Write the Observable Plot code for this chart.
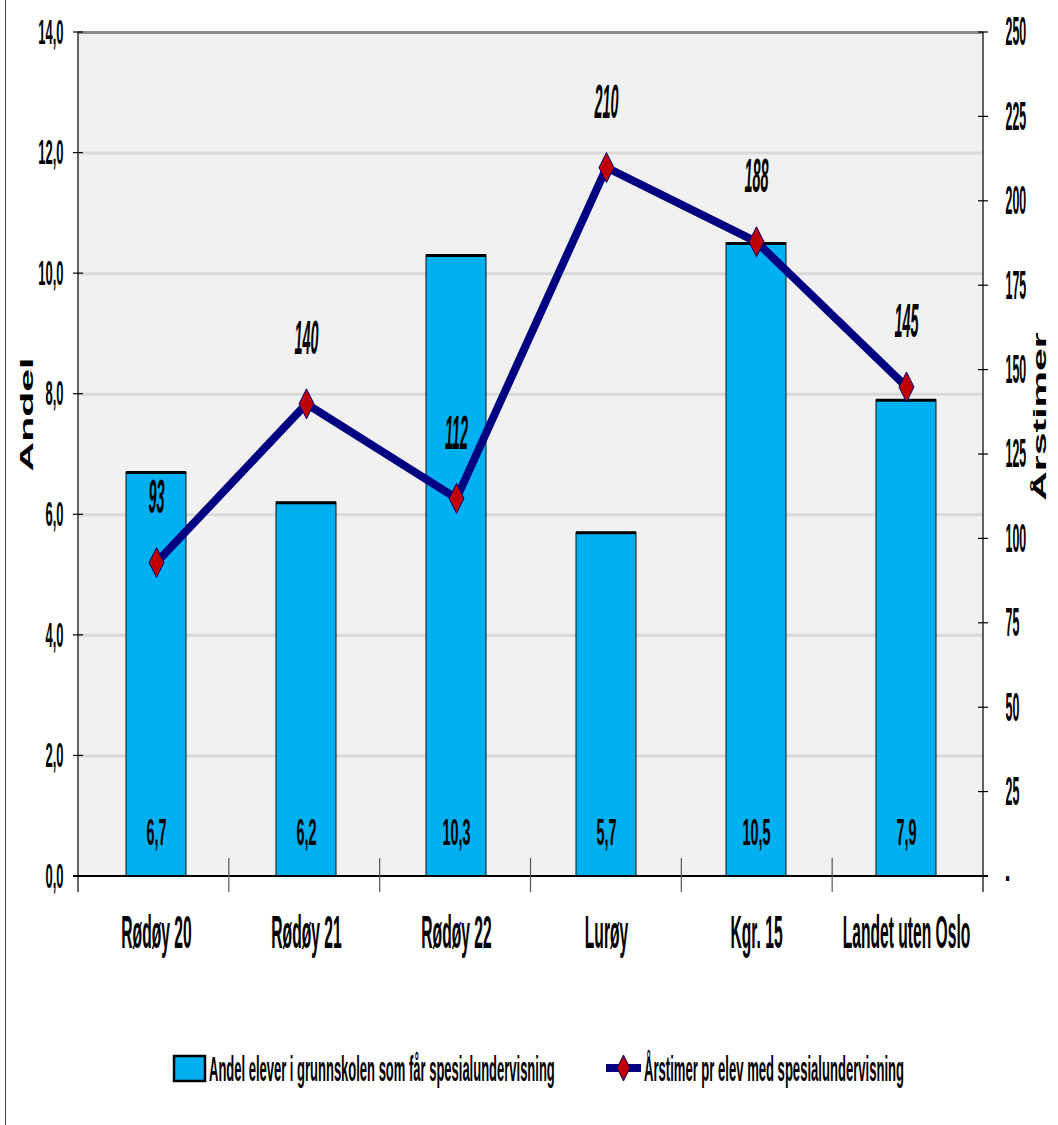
<!DOCTYPE html>
<html><head><meta charset="utf-8">
<script src="https://cdn.jsdelivr.net/npm/d3@7"></script>
<script src="https://cdn.jsdelivr.net/npm/@observablehq/plot@0.6"></script>
<style>
body{margin:0;background:#fff;width:1058px;height:1125px;overflow:hidden;position:relative;font-family:"Liberation Sans",Arial,sans-serif;}
#border{position:absolute;left:5px;top:0;width:1px;height:1125px;background:#404040;}
svg{display:block}
</style></head><body><div id="border"></div><div id="chart"></div><div id="legend"></div>
<script>
// ---- data ----
const categories = ["Rødøy 20", "Rødøy 21", "Rødøy 22", "Lurøy", "Kgr. 15", "Landet uten Oslo"];
const andel = [6.7, 6.2, 10.3, 5.7, 10.5, 7.9];
const arstimer = [93, 140, 112, 210, 188, 145];
const leftTicks = [0, 2, 4, 6, 8, 10, 12, 14];
const rightTicks = [0, 25, 50, 75, 100, 125, 150, 175, 200, 225, 250];
const seriesNames = ["Andel elever i grunnskolen som får spesialundervisning", "Årstimer pr elev med spesialundervisning"];
const axisTitles = ["Andel", "Årstimer"];

const data = categories.map((c, i) => ({cat: c, andel: andel[i], hours: arstimer[i]}));
const LMAX = 14, RMAX = 250;
const toLeft = r => r * LMAX / RMAX;
const comma = v => v.toFixed(1).replace(".", ",");

const BLUE = "#00b0f0", NAVY = "#000080", RED = "#c00000";
const FONT = "Liberation Sans, Arial, sans-serif";

const tallDiamond = {
  draw(ctx, size) {
    const r = Math.sqrt(size / Math.PI);
    const w = r * 0.5, h = r;
    ctx.moveTo(0, -h); ctx.lineTo(w, 0); ctx.lineTo(0, h); ctx.lineTo(-w, 0); ctx.closePath();
  }
};
const tag = name => () => name;

const W = 1058, H = 1000;
const plot = Plot.plot({
  width: W, height: H,
  marginLeft: 78, marginRight: 75, marginTop: 32, marginBottom: H - 876,
  x: {domain: categories, paddingInner: 0.6, paddingOuter: 0.3, axis: null},
  y: {domain: [0, LMAX], axis: null},
  style: {fontFamily: FONT, background: "transparent", overflow: "visible", color: "#000"},
  marks: [
    Plot.frame({fill: "#f1f1f1", stroke: "none"}),
    Plot.ruleY(leftTicks.filter(d => d > 0 && d < LMAX), {stroke: "#d9d9d9", strokeWidth: 3}),
    Plot.ruleY([LMAX], {stroke: "#8c8c8c", strokeWidth: 3}),
    Plot.barY(data, {x: "cat", y: "andel", fill: BLUE, stroke: "#111", strokeWidth: 1}),
    Plot.tickY(data, {x: "cat", y: "andel", stroke: "#000", strokeWidth: 3}),
    Plot.line(data, {x: "cat", y: d => toLeft(d.hours), stroke: NAVY, strokeWidth: 8, strokeLinejoin: "round"}),
    Plot.dot(data, {x: "cat", y: d => toLeft(d.hours), symbol: tallDiamond, r: 15, fill: RED, stroke: NAVY, strokeWidth: 1}),
    Plot.text(data, {x: "cat", y: d => toLeft(d.hours), text: d => String(d.hours), dy: -65,
      fontSize: 48, fontWeight: "bold", fontStyle: "italic", fill: "#000", ariaLabel: tag("linelabels")}),
    Plot.text(data, {x: "cat", y: d => 0, text: d => comma(d.andel), dy: -43,
      fontSize: 37, fontWeight: "bold", fill: "#000", ariaLabel: tag("barlabels")}),
    Plot.text(data, {x: "cat", y: d => 0, text: "cat", dy: 57,
      fontSize: 46, fontWeight: "bold", fill: "#000", ariaLabel: tag("catlabels")}),
    Plot.text(leftTicks, {y: d => d, frameAnchor: "left", dx: -15, textAnchor: "end", text: d => comma(d),
      fontSize: 35, fontWeight: "bold", fill: "#000", ariaLabel: tag("lefttick")}),
    Plot.text(rightTicks, {y: d => toLeft(d), frameAnchor: "right", dx: 22, textAnchor: "start",
      text: d => d === 0 ? "-" : String(d),
      fontSize: 40, fontWeight: "bold", fill: "#000", ariaLabel: tag("righttick")}),
    Plot.text([axisTitles[0]], {frameAnchor: "left", dx: -51, dy: -40, rotate: -90, textAnchor: "middle", text: d => d,
      fontSize: 41, fontWeight: "bold", fill: "#000", ariaLabel: tag("ytitle")}),
    Plot.text([axisTitles[1]], {frameAnchor: "right", dx: 57, dy: -38, rotate: -90, textAnchor: "middle", text: d => d,
      fontSize: 41, fontWeight: "bold", fill: "#000", ariaLabel: tag("ytitle")})
  ]
});
document.getElementById("chart").appendChild(plot);

const svg = d3.select(plot);
function squeezeEl(el, sx, sy = 1) {
  const t = el.getAttribute("transform");
  if (t) el.setAttribute("transform", `${t} scale(${sx},${sy})`);
  else {
    const x = +el.getAttribute("x") || 0;
    el.setAttribute("transform", `translate(${x},0) scale(${sx},${sy}) translate(${-x},0)`);
  }
}
function squeeze(label, sx, sy = 1) {
  svg.selectAll(`[aria-label="${label}"]`).each(function () {
    const el = this.tagName.toLowerCase() === "text" ? this : this.querySelector("text");
    if (el) squeezeEl(el, sx, sy);
  });
}
squeeze("linelabels", 0.30);
squeeze("barlabels", 0.39);
squeeze("catlabels", 0.34);
squeeze("lefttick", 0.37);
squeeze("righttick", 0.31);
squeeze("ytitle", 1, 0.45);

// axis lines and crossing tick marks from the plot's scales
const ys = plot.scale("y"), xs = plot.scale("x");
const [xa, xb] = xs.range;
const y0 = ys.apply(0), yTop = ys.apply(LMAX);
const ax = svg.append("g").attr("stroke", "#000").attr("stroke-width", 1.2).attr("fill", "none");
ax.append("line").attr("x1", xa).attr("x2", xa).attr("y1", yTop).attr("y2", y0 + 16);
ax.append("line").attr("x1", xb).attr("x2", xb).attr("y1", yTop).attr("y2", y0 + 16);
ax.append("line").attr("x1", xa - 5).attr("x2", xb + 5).attr("y1", y0).attr("y2", y0).attr("stroke-width", 2);
leftTicks.forEach(v => {
  const y = ys.apply(v);
  ax.append("line").attr("x1", xa - 5).attr("x2", xa + 5).attr("y1", y).attr("y2", y);
});
rightTicks.forEach(v => {
  const y = ys.apply(toLeft(v));
  ax.append("line").attr("x1", xb - 5).attr("x2", xb + 5).attr("y1", y).attr("y2", y);
});
const step = (xb - xa) / categories.length;
for (let k = 1; k < categories.length; k++) {
  const x = xa + k * step;
  ax.append("line").attr("x1", x).attr("x2", x).attr("y1", y0 - 18).attr("y2", y0 + 16).attr("stroke", "#555");
}

// legend below the chart
const L = d3.select("#legend").append("svg").attr("width", W).attr("height", 1125 - H)
  .style("font-family", FONT);
const ly = 68;
L.append("rect").attr("x", 174).attr("y", ly - 12).attr("width", 31).attr("height", 25)
  .attr("fill", BLUE).attr("stroke", "#000").attr("stroke-width", 2.5);
L.append("line").attr("x1", 606).attr("x2", 641).attr("y1", ly).attr("y2", ly)
  .attr("stroke", NAVY).attr("stroke-width", 8);
L.append("path").attr("d", `M623.5,${ly - 13}L630,${ly}L623.5,${ly + 13}L617,${ly}Z`)
  .attr("fill", RED).attr("stroke", NAVY).attr("stroke-width", 1);
[[seriesNames[0], 209, 346], [seriesNames[1], 644, 260]].forEach(([txt, x, w]) => {
  const t = L.append("text").attr("transform", `translate(${x},${ly + 13})`)
    .attr("font-size", 36).attr("font-weight", "bold").text(txt);
  const natural = t.node().getComputedTextLength() || 1;
  t.attr("transform", `translate(${x},${ly + 13}) scale(${w / natural},1)`);
});
</script>
</body></html>
